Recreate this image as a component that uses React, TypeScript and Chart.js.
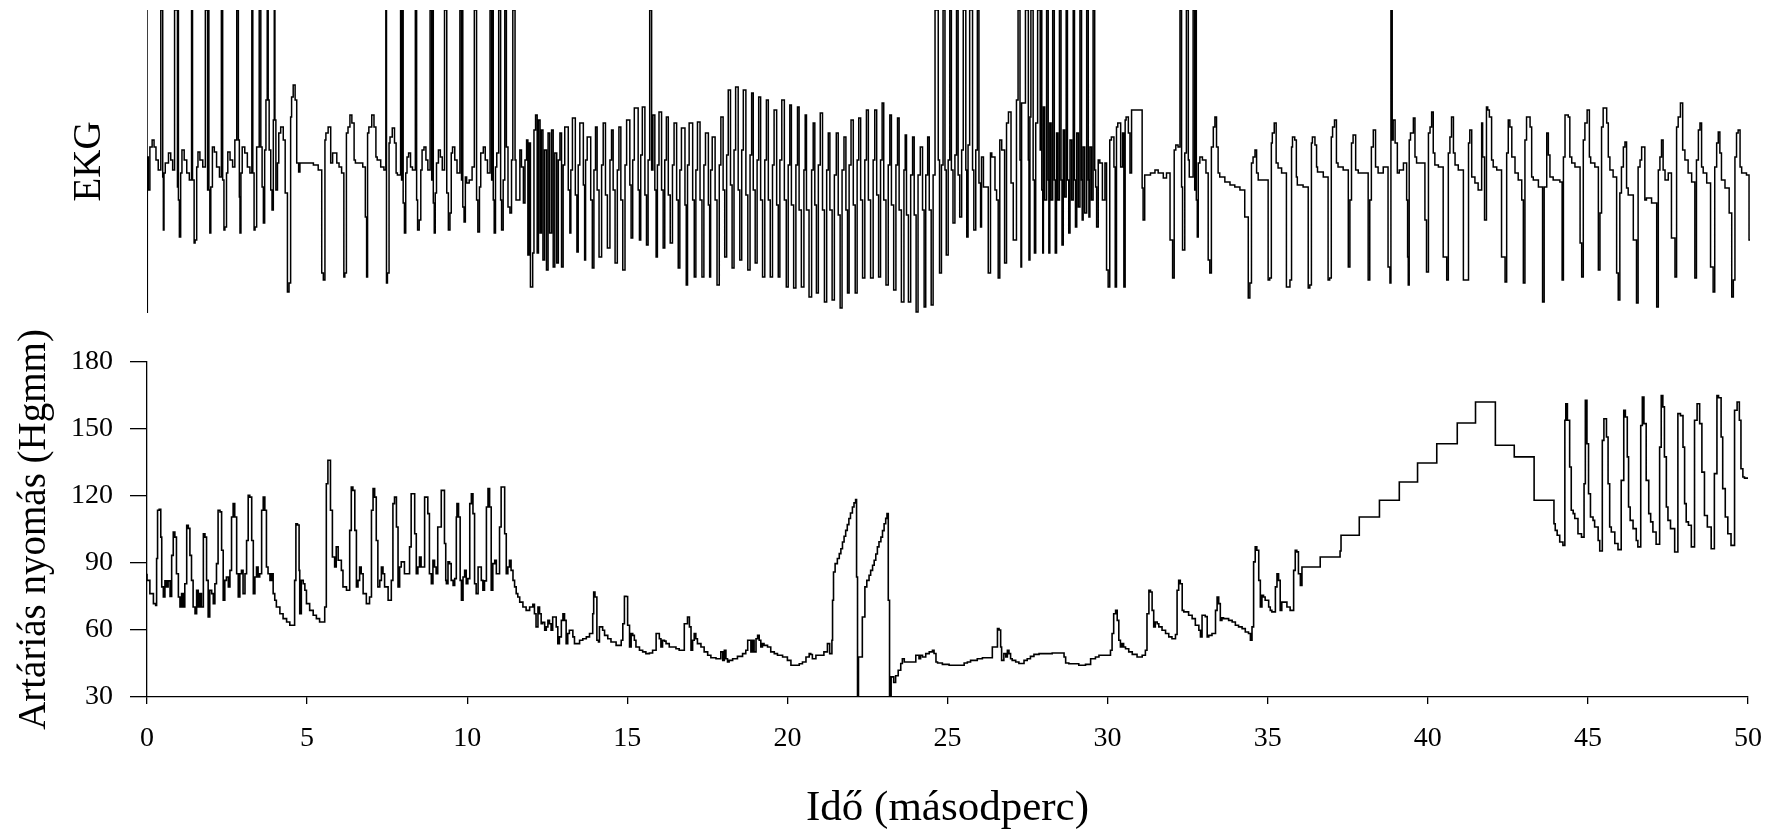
import React, { useEffect, useRef } from "react";
import { Chart, registerables } from "chart.js";

Chart.register(...registerables);

// ---------------- axis definitions ----------------
const timeMin = 0;
const timeMax = 50;
const timeStep = 5;
const pressureMin = 30;
const pressureMax = 180;
const pressureStep = 30;
const ekgMin = -1.43;
const ekgMax = 1.6;

const xTitle = "Idő (másodperc)";
const yTitle = "Artáriás nyomás (Hgmm)";
const ekgTitle = "EKG";

// ---------------- EKG (time s, value mV) pairs ----------------
const ekgSinus1 = [
  0.00,1.6, 0.01,-1.43, 0.04,0.13, 0.09,-0.2, 0.16,0.23, 0.22,0.3, 0.28,0.23, 0.35,0.1, 0.43,0.0,
  0.49,1.6, 0.51,-0.07, 0.53,-0.6, 0.57,-0.03, 0.67,0.07, 0.74,0.17, 0.80,0.1, 0.86,0.0,
  0.95,1.6, 0.97,-0.17, 0.98,1.6, 1.01,-0.3, 1.05,-0.67, 1.09,-0.03, 1.16,0.2, 1.24,0.1, 1.32,-0.03, 1.39,-0.1,
  1.42,1.6, 1.47,-0.1, 1.50,-0.73, 1.55,-0.7, 1.59,0.03, 1.65,0.18, 1.74,0.1, 1.82,0.03,
  1.89,1.6, 1.91,-0.2, 1.93,1.6, 1.96,-0.2, 1.99,-0.63, 2.04,-0.17, 2.10,0.23, 2.17,0.18, 2.26,0.03, 2.32,-0.07,
  2.36,1.6, 2.40,-0.1, 2.43,-0.6, 2.48,-0.57, 2.52,-0.03, 2.59,0.18, 2.67,0.1, 2.74,0.03, 2.80,0.3,
  2.85,1.6, 2.88,0.3, 2.90,-0.27, 2.93,-0.63, 2.97,-0.03, 3.05,0.23, 3.13,0.17, 3.21,0.03, 3.27,-0.03,
  3.30,1.6, 3.34,-0.03, 3.37,-0.6, 3.42,-0.57, 3.45,0.23, 3.50,0.23,
  3.55,1.6, 3.59,0.23, 3.63,-0.17, 3.67,-0.53, 3.71,0.2, 3.75,0.7,
  3.78,1.6, 3.81,0.7, 3.86,0.2, 3.90,-0.2, 3.94,-0.4, 3.97,0.5,
  3.99,1.6, 4.02,0.5, 4.07,-0.2, 4.11,0.07, 4.17,0.37, 4.25,0.43, 4.31,0.3, 4.38,-0.23,
];

const ekgPause = [
  4.43,-1.22, 4.48,-1.13, 4.51,0.53, 4.56,0.73, 4.62,0.85, 4.67,0.7, 4.73,0.07, 4.77,-0.02,
  5.19,0.07, 5.34,0.05, 5.45,0.0,
  5.50,-1.03, 5.55,-1.1, 5.58,0.3, 5.65,0.37, 5.73,0.43, 5.79,0.07, 5.92,0.17, 5.99,0.07, 6.07,0.03, 6.14,-0.03,
  6.17,-1.07, 6.22,-1.03, 6.27,0.37, 6.33,0.43, 6.39,0.55, 6.46,0.47, 6.50,0.1, 6.59,0.07, 6.73,0.07, 6.81,0.03,
  6.85,-0.47, 6.88,-1.07, 6.92,0.37, 7.01,0.43, 7.08,0.55, 7.14,0.43, 7.18,0.13, 7.29,0.1, 7.39,0.03, 7.45,0.0,
];

const ekgSinus2 = [
  7.47,1.6, 7.50,-1.13, 7.55,-1.03, 7.58,0.27, 7.65,0.33, 7.72,0.42, 7.77,0.27, 7.81,-0.03, 7.91,-0.05,
  7.94,1.6, 7.97,-0.1, 7.99,1.6, 8.03,-0.33, 8.07,-0.63, 8.11,-0.03, 8.16,0.13, 8.22,0.17, 8.28,0.03, 8.37,0.0,
  8.41,1.6, 8.44,-0.3, 8.49,-0.6, 8.54,-0.5, 8.58,0.0, 8.64,0.2, 8.70,0.23, 8.76,0.1, 8.83,0.0,
  8.88,1.6, 8.91,-0.1, 8.93,1.6, 8.96,-0.33, 8.99,-0.63, 9.03,-0.23, 9.09,0.07, 9.15,0.2, 9.21,0.13, 9.28,0.0,
  9.35,1.6, 9.40,-0.23, 9.45,-0.6, 9.49,-0.43, 9.53,0.17, 9.60,0.23, 9.67,0.1, 9.76,-0.03,
  9.81,1.6, 9.83,-0.1, 9.85,1.6, 9.89,-0.37, 9.93,-0.52, 9.97,-0.07, 10.05,-0.13, 10.14,-0.1, 10.21,0.03,
  10.28,1.6, 10.32,-0.3, 10.37,-0.62, 10.41,-0.17, 10.49,0.17, 10.55,0.23, 10.62,0.1, 10.70,-0.03,
  10.75,1.6, 10.78,-0.1, 10.80,1.6, 10.83,-0.3, 10.87,-0.63, 10.91,0.03, 10.97,0.17,
  11.03,1.6, 11.06,-0.3, 11.11,-0.6, 11.16,-0.1,
  11.21,1.6, 11.26,0.23, 11.32,-0.37, 11.37,-0.43, 11.41,0.1,
  11.48,1.6, 11.51,0.1, 11.57,-0.3, 11.63,-0.3, 11.68,0.2,
];

const ekgFlutter = [
  11.74,0.03, 11.79,-0.33, 11.84,0.1, 11.88,0.3, 11.92,-0.85, 11.96,0.27, 12.03,-1.17, 12.07,-0.83,
  12.12,0.4, 12.17,0.55, 12.21,-0.83, 12.26,0.5, 12.30,-0.63, 12.35,0.4, 12.40,-0.9, 12.46,0.2,
  12.51,-1.0, 12.56,0.37, 12.62,-0.63, 12.67,0.4, 12.72,-0.97, 12.78,0.17, 12.83,-0.93, 12.88,0.1,
  12.93,0.37, 12.98,-0.97, 13.03,0.05,
  13.14,0.43, 13.19,-0.2, 13.22,-0.63, 13.27,0.0,
  13.36,0.52, 13.41,-0.25, 13.45,-0.82, 13.50,0.05,
  13.61,0.47, 13.65,-0.15, 13.68,-0.9, 13.73,0.1,
  13.84,0.33, 13.89,-0.3, 13.94,-0.98, 13.99,0.0,
  14.04,0.43, 14.10,-0.2, 14.18,-0.87, 14.23,0.05,
  14.30,0.47, 14.36,-0.25, 14.44,-0.78, 14.49,0.1,
  14.54,0.40, 14.60,-0.2, 14.67,-0.93, 14.72,0.0,
  14.78,0.43, 14.84,-0.3, 14.91,-1.0, 14.96,0.05,
  15.06,0.50, 15.10,-0.15, 15.15,-0.68, 15.20,0.1,
  15.32,0.62, 15.36,-0.2, 15.40,-0.70, 15.45,0.15,
  15.53,0.63, 15.58,-0.25, 15.63,-0.75, 15.68,0.1,
  15.74,1.6, 15.78,0.0, 15.84,0.55, 15.88,-0.2, 15.92,-0.87, 15.97,0.05,
  16.05,0.58, 16.10,-0.2, 16.15,-0.78, 16.20,0.1,
  16.26,0.53, 16.32,-0.25, 16.39,-0.73, 16.44,0.05,
  16.52,0.47, 16.57,-0.3, 16.62,-0.98, 16.67,0.0,
  16.78,0.42, 16.82,-0.35, 16.86,-1.15, 16.91,0.05,
  17.02,0.47, 17.07,-0.3, 17.12,-1.07, 17.17,0.0,
  17.25,0.48, 17.31,-0.3, 17.37,-1.07, 17.42,0.05,
  17.51,0.37, 17.55,-0.35, 17.58,-1.07, 17.63,0.0,
  17.72,0.33, 17.78,-0.3, 17.85,-1.15, 17.90,0.05,
  17.97,0.53, 18.02,-0.2, 18.08,-0.87, 18.13,0.15,
  18.20,0.80, 18.25,-0.15, 18.31,-0.98, 18.36,0.2,
  18.44,0.83, 18.49,-0.2, 18.55,-0.90, 18.60,0.2,
  18.68,0.80, 18.74,-0.25, 18.81,-1.0, 18.86,0.15,
  18.91,0.77, 18.97,-0.2, 19.03,-0.93, 19.08,0.1,
  19.14,0.73, 19.20,-0.3, 19.27,-1.07, 19.32,0.1,
  19.38,0.70, 19.44,-0.3, 19.51,-1.07, 19.56,0.05,
  19.64,0.60, 19.69,-0.35, 19.74,-1.07, 19.80,0.1,
  19.88,0.70, 19.94,-0.3, 20.00,-1.17, 20.05,0.05,
  20.10,0.65, 20.17,-0.35, 20.24,-1.18, 20.29,0.05,
  20.34,0.63, 20.41,-0.4, 20.49,-1.17, 20.53,0.0,
  20.57,0.55, 20.65,-0.4, 20.73,-1.27, 20.78,0.0,
  20.83,0.47, 20.88,-0.35, 20.94,-1.23, 21.00,0.05,
  21.07,0.57, 21.13,-0.4, 21.20,-1.32, 21.25,0.0,
  21.30,0.37, 21.37,-0.4, 21.44,-1.30, 21.50,-0.05,
  21.56,0.37, 21.62,-0.45, 21.68,-1.38, 21.74,0.0,
  21.80,0.33, 21.85,-0.4, 21.90,-1.23, 21.96,0.05,
  22.03,0.50, 22.09,-0.35, 22.15,-1.23, 22.20,0.1,
  22.26,0.52, 22.32,-0.3, 22.39,-1.08, 22.44,0.1,
  22.50,0.60, 22.57,-0.3, 22.65,-1.08, 22.70,0.1,
  22.76,0.60, 22.82,-0.25, 22.88,-1.07, 22.93,0.1,
  22.98,0.67, 23.05,-0.3, 23.12,-1.15, 23.17,0.05,
  23.22,0.55, 23.29,-0.35, 23.36,-1.20, 23.41,0.05,
  23.46,0.52, 23.53,-0.4, 23.61,-1.32, 23.65,0.0,
  23.69,0.35, 23.75,-0.45, 23.82,-1.32, 23.88,-0.05,
  23.93,0.33, 23.99,-0.45, 24.05,-1.42, 24.12,-0.05,
  24.19,0.23, 24.24,-0.4, 24.29,-1.37, 24.35,-0.05,
  24.40,0.33, 24.46,-0.4, 24.52,-1.35, 24.58,-0.05,
  24.68,1.6, 24.72,0.1, 24.78,-1.03, 24.83,0.05,
  24.89,1.6, 24.93,0.0, 24.99,-0.85, 25.04,0.1,
  25.09,1.6, 25.14,0.0, 25.20,-0.53, 25.25,0.15,
  25.30,1.6, 25.35,-0.05, 25.41,-0.47, 25.46,0.2,
  25.54,1.6, 25.57,0.0, 25.61,-0.67, 25.66,0.25,
  25.75,1.6, 25.79,0.0, 25.85,-0.60, 25.90,0.2,
  25.95,1.6,
];

const ekgMixed = [
  26.00,-0.13, 26.03,-0.57, 26.09,0.13, 26.24,-0.17, 26.31,-1.03, 26.35,0.17, 26.45,0.13, 26.50,-0.2,
  26.55,-0.3, 26.60,-1.08, 26.66,0.3, 26.75,0.2, 26.81,-0.93, 26.87,0.47, 26.95,0.58, 27.02,-0.13,
  27.12,-0.7, 27.17,0.7, 27.23,1.6, 27.26,0.1, 27.28,-0.97, 27.31,0.67, 27.40,0.67, 27.49,1.6,
  27.51,0.1, 27.54,-0.9, 27.57,0.53, 27.64,1.6, 27.68,-0.1, 27.72,-0.83, 27.78,0.47, 27.86,1.6,
  27.88,0.2, 27.91,1.6, 27.94,-0.2, 27.96,-0.83, 28.00,0.63, 28.06,-0.3, 28.11,1.6, 28.13,-0.1,
  28.16,-0.83, 28.20,0.47, 28.25,-0.3, 28.30,1.6, 28.33,-0.1, 28.37,-0.83, 28.41,0.37, 28.46,-0.3,
  28.51,1.6, 28.54,-0.1, 28.58,-0.75, 28.62,0.4, 28.67,-0.27, 28.71,1.6, 28.75,-0.1, 28.79,-0.63,
  28.84,0.3, 28.89,-0.3, 28.93,1.6, 28.96,-0.1, 29.00,-0.57, 29.05,0.37, 29.10,-0.37, 29.15,1.6,
  29.17,-0.1, 29.20,-0.5, 29.25,0.23, 29.31,-0.43, 29.36,1.6, 29.38,-0.1, 29.41,-0.47, 29.46,0.23,
  29.51,-0.3, 29.56,1.6, 29.59,0.0, 29.62,-0.17, 29.67,-0.57, 29.72,0.1, 29.80,0.07, 29.88,-0.3,
  29.93,0.07, 29.98,-1.0, 30.03,-1.17, 30.08,0.3, 30.16,0.33, 30.20,0.03, 30.24,-1.17, 30.28,0.43,
  30.37,0.47, 30.43,0.03, 30.47,0.37, 30.51,-1.17, 30.54,0.5, 30.61,0.53, 30.66,0.37, 30.71,-0.03,
];

const ekgSinus3 = [
  31.04,0.6, 31.07,-0.18, 31.12,-0.5, 31.30,-0.05, 31.44,-0.03, 31.54,0.0, 31.70,-0.03, 31.80,-0.08,
  31.91,-0.03, 31.99,-0.7, 32.04,-1.08, 32.09,0.2, 32.16,0.25, 32.22,0.23,
  32.27,1.6, 32.30,-0.17, 32.37,-0.8, 32.42,0.17,
  32.48,1.6, 32.51,0.1, 32.63,-0.07,
  32.68,1.6, 32.70,-0.2, 32.73,1.6, 32.76,-0.3, 32.79,-0.67, 32.84,0.07, 32.92,0.13, 33.03,0.1, 33.10,-0.03,
  33.15,-0.9, 33.20,-1.03, 33.26,0.23, 33.31,0.43, 33.36,0.53, 33.41,0.23, 33.46,-0.03, 33.62,-0.07,
  33.78,-0.12, 33.93,-0.15, 34.09,-0.17, 34.24,-0.2,
  34.35,-0.47, 34.40,-1.28, 34.45,-1.13, 34.50,0.07, 34.56,0.13, 34.61,0.2, 34.66,-0.03, 34.82,-0.1, 34.97,-0.1,
  35.02,-1.1, 35.07,-1.08, 35.10,0.27, 35.16,0.37, 35.22,0.47, 35.28,0.07, 35.39,0.02, 35.54,-0.03,
  35.65,-1.17, 35.70,-1.1, 35.73,0.23, 35.80,0.33, 35.85,0.3, 35.88,-0.07, 36.06,-0.15, 36.22,-0.17,
  36.27,-1.18, 36.32,-1.15, 36.35,0.27, 36.43,0.33, 36.48,0.25, 36.51,0.03, 36.69,-0.02, 36.84,-0.07,
  36.89,-1.1, 36.94,-1.08, 36.98,0.33, 37.04,0.43, 37.10,0.5, 37.15,0.07, 37.31,0.03, 37.47,0.0,
  37.52,-0.97, 37.57,-0.3, 37.62,0.27, 37.70,0.35, 37.78,0.0, 37.93,-0.03, 38.09,-0.03,
  38.14,-1.1, 38.19,-0.3, 38.25,0.23, 38.32,0.4, 38.40,0.03, 38.56,-0.03, 38.71,0.03,
  38.77,-0.97, 38.80,-1.13, 38.84,1.6,
];

const ekgSinus4 = [
  38.87,0.3, 38.93,0.5, 39.00,0.27, 39.06,-0.03, 39.19,0.0, 39.29,0.07, 39.32,-0.3, 39.34,-0.87, 39.37,-1.15,
  39.41,0.3, 39.50,0.37, 39.55,0.52, 39.60,0.13, 39.71,0.07, 39.86,0.07, 39.91,-0.5, 39.97,-1.02,
  40.02,0.37, 40.07,0.43, 40.12,0.58, 40.17,0.17, 40.28,0.05, 40.43,0.03, 40.54,-0.87, 40.59,-1.1,
  40.64,0.17, 40.69,0.33, 40.75,0.53, 40.80,0.17, 40.90,0.05, 41.06,0.0, 41.16,-1.1, 41.22,-1.1,
  41.26,0.27, 41.32,0.4, 41.42,-0.07, 41.52,-0.13, 41.63,-0.2, 41.66,0.47, 41.72,0.13, 41.78,-0.5,
  41.82,0.63, 41.87,0.6, 41.94,0.53, 41.99,0.1, 42.10,0.03, 42.25,0.0, 42.36,-0.87, 42.41,-1.12,
  42.46,0.17, 42.51,0.5, 42.57,0.43, 42.67,0.13, 42.77,-0.03, 42.88,-0.1, 42.93,-0.3, 42.98,-1.13,
  43.03,0.3, 43.14,0.53, 43.19,0.43, 43.24,-0.07, 43.40,-0.1, 43.53,-0.17, 43.58,-1.32,
  43.66,-0.17, 43.71,0.37, 43.76,0.15, 43.86,-0.07, 44.07,-0.1, 44.14,-0.12, 44.18,-1.1,
  44.23,0.13, 44.33,0.55, 44.38,0.53, 44.44,0.13, 44.54,0.07, 44.70,0.03, 44.75,-0.73, 44.80,-1.07,
  44.85,0.3, 44.92,0.47, 44.99,0.6, 45.03,0.13, 45.16,0.07, 45.27,0.03, 45.32,-1.0, 45.37,-0.43,
  45.42,0.43, 45.53,0.62, 45.58,0.47, 45.63,0.13, 45.73,0.0, 45.84,-0.07, 45.89,-1.03, 45.94,-1.3,
  45.99,-0.23, 46.05,0.03, 46.10,0.23, 46.15,0.28, 46.20,-0.18, 46.36,-0.25, 46.46,-0.7, 46.51,-1.33,
  46.57,0.03, 46.62,0.1, 46.72,0.23, 46.77,-0.3, 46.93,-0.28, 47.09,-0.33, 47.14,-1.37,
  47.19,0.0, 47.24,0.13, 47.29,0.3, 47.35,0.0, 47.45,-0.1, 47.55,-0.03, 47.66,-0.68, 47.71,-1.07,
  47.76,0.43, 47.83,0.53, 47.90,0.67, 47.97,0.2, 48.07,0.1, 48.18,-0.03, 48.28,-0.12, 48.33,-1.08,
  48.39,0.1, 48.44,0.4, 48.49,0.47, 48.54,0.03, 48.65,-0.03, 48.77,-0.13, 48.85,-0.97, 48.90,-1.22,
  48.96,0.03, 49.01,0.27, 49.06,0.38, 49.11,0.17, 49.22,-0.1, 49.35,-0.18, 49.43,-0.43, 49.48,-1.27, 49.53,-1.1,
  49.58,0.13, 49.63,0.37, 49.69,0.4, 49.74,0.03, 49.89,-0.03, 49.97,-0.05, 50.0,-0.7,
];

// ---------------- arterial pressure (time s, mmHg) pairs ----------------
const pressureRest = [
  0.00,85.2, 0.09,82.2, 0.20,76.3, 0.27,71.8, 0.30,71.0, 0.33,92.0, 0.38,113.6, 0.43,114.0, 0.46,101.6,
  0.51,79.3, 0.56,74.8, 0.61,82.0, 0.66,79.3, 0.72,82.0, 0.77,75.0, 0.82,93.4, 0.87,103.9, 0.92,101.6,
  0.98,85.2, 1.03,74.8, 1.08,70.3, 1.13,76.3, 1.18,70.3, 1.24,80.7, 1.29,106.9, 1.34,105.5, 1.39,93.4,
  1.44,82.2, 1.50,70.3, 1.55,67.3, 1.60,77.8, 1.65,70.3, 1.70,76.3, 1.76,70.3, 1.81,103.1, 1.86,101.6,
  1.91,82.2, 1.96,65.8, 2.02,77.8, 2.07,76.3, 2.12,71.8, 2.17,80.7, 2.22,89.7, 2.28,113.6, 2.33,112.9,
  2.38,95.7, 2.43,73.3, 2.48,82.2, 2.54,83.7, 2.59,79.3, 2.64,86.7, 2.69,110.6, 2.74,116.6, 2.80,110.6,
  2.85,85.2, 2.90,74.8, 2.95,85.2, 3.00,86.7, 3.06,76.3, 3.11,85.2, 3.16,100.1, 3.21,120.3, 3.27,119.5,
  3.32,100.1, 3.37,76.3, 3.42,83.7, 3.47,88.2, 3.52,83.7, 3.58,85.2, 3.63,113.6, 3.68,119.5, 3.73,113.6,
  3.78,88.2, 3.84,85.2, 3.89,82.2, 3.94,85.2, 3.99,76.3, 4.04,73.3, 4.15,70.3, 4.25,67.3, 4.36,65.1,
  4.46,63.6, 4.61,62.1,
];

const pressurePause = [
  4.65,82.2, 4.70,107.6, 4.75,107.0, 4.77,86.7, 4.82,67.3, 4.88,82.2, 4.93,80.7, 4.98,77.8, 5.08,71.8,
  5.19,68.8, 5.29,66.6, 5.39,65.1, 5.55,63.6, 5.60,70.3,
];

const pressureBeats = [
  5.65,125.5, 5.73,136.0, 5.79,113.6, 5.86,92.7, 5.91,88.2, 5.97,97.2, 6.07,91.2, 6.12,86.7, 6.23,79.3,
  6.33,77.8, 6.38,104.6, 6.43,124.0, 6.49,122.5, 6.54,104.6, 6.59,79.3, 6.64,82.2, 6.69,88.2, 6.75,85.2,
  6.85,76.3, 6.95,71.8, 7.01,74.8, 7.06,113.6, 7.11,123.3, 7.16,119.5, 7.21,100.1, 7.27,79.3, 7.32,82.2,
  7.37,88.2, 7.42,85.2, 7.53,79.3, 7.63,73.3, 7.68,82.2, 7.73,116.6, 7.79,119.5, 7.84,106.1, 7.89,79.3,
  7.94,88.2, 8.04,90.5, 8.10,85.2, 8.20,85.2, 8.25,97.2, 8.30,121.0, 8.36,121.0, 8.41,103.1, 8.46,85.2,
  8.51,88.2, 8.56,92.7, 8.67,88.2, 8.72,119.5, 8.77,119.5, 8.82,112.1, 8.88,85.2, 8.93,80.7, 8.98,91.2,
  9.03,88.2, 9.08,85.2, 9.19,106.1, 9.24,122.5, 9.29,122.5, 9.33,98.7, 9.35,82.2, 9.40,80.7, 9.45,90.5,
  9.50,89.7, 9.56,82.2, 9.61,80.0, 9.66,83.0, 9.68,110.6, 9.73,116.6, 9.78,110.6, 9.82,82.2, 9.87,73.3,
  9.92,83.7, 9.97,86.7, 10.02,80.7, 10.08,83.0, 10.13,116.6, 10.18,121.0, 10.23,112.1, 10.28,80.7,
  10.34,76.3, 10.39,88.2, 10.44,88.2, 10.49,82.2, 10.54,77.8, 10.60,82.0, 10.65,115.1, 10.70,123.3,
  10.75,115.1, 10.80,77.8, 10.86,89.7, 10.91,91.2, 10.96,85.2, 11.01,85.2, 11.06,106.1, 11.12,124.0,
  11.17,124.0, 11.22,103.1, 11.27,85.2, 11.32,88.2, 11.37,91.2, 11.43,86.7,
];

const pressureDecline = [
  11.48,82.2, 11.53,79.3, 11.58,76.3, 11.64,74.8, 11.74,72.5, 11.84,70.3, 11.95,68.8, 12.05,70.3,
  12.10,71.5, 12.15,67.3, 12.21,61.4, 12.26,70.3, 12.31,67.3, 12.36,62.8, 12.42,63.5, 12.47,59.9,
  12.52,61.4, 12.57,64.3, 12.62,62.8, 12.67,59.9, 12.73,65.8, 12.78,65.8, 12.83,61.4, 12.88,53.9,
  12.94,56.9, 12.99,64.3, 13.04,67.3, 13.09,64.3, 13.14,53.9, 13.19,58.4, 13.25,59.9, 13.30,59.9,
  13.35,56.9, 13.40,53.9, 13.51,53.9, 13.61,55.4, 13.72,56.1, 13.82,56.9, 13.92,58.4, 13.95,67.3,
  13.99,77.0, 14.05,74.8, 14.10,55.4, 14.13,54.6, 14.18,61.4, 14.23,61.4, 14.29,59.9, 14.39,57.6,
  14.49,56.1, 14.65,54.6, 14.81,53.1, 14.86,55.4, 14.91,62.8, 14.96,75.1, 15.01,75.0, 15.07,62.1,
  15.12,52.4, 15.17,58.4, 15.22,57.6, 15.27,55.4, 15.38,52.4, 15.48,50.9, 15.58,50.2, 15.69,49.4,
  15.79,49.7, 15.90,50.9, 15.95,58.4, 16.00,58.4, 16.05,56.1, 16.10,52.4, 16.16,55.4, 16.21,55.0,
  16.31,53.9, 16.42,52.4, 16.52,52.4, 16.62,51.6, 16.78,50.9, 16.88,62.8, 16.94,65.8, 16.99,61.4,
  17.04,50.9, 17.09,55.4, 17.14,58.4, 17.19,56.1, 17.30,53.9, 17.40,52.4, 17.51,50.2, 17.61,48.7,
  17.77,47.6, 17.92,47.1, 17.98,50.2, 18.03,46.4, 18.08,50.9, 18.13,47.1, 18.18,45.7, 18.29,46.4,
  18.44,47.1, 18.60,48.2, 18.70,49.4, 18.76,50.9, 18.81,55.4, 18.86,55.4, 18.91,50.2, 18.96,55.4,
  19.02,50.2, 19.07,56.1, 19.12,57.6, 19.17,55.4, 19.22,52.4, 19.27,53.9, 19.38,53.1, 19.48,52.4,
  19.59,50.2, 19.69,49.4, 19.85,48.7, 20.00,47.9, 20.11,46.4, 20.21,44.2, 20.37,44.2, 20.47,44.9,
  20.58,45.7, 20.68,47.9, 20.73,49.4, 20.78,49.0, 20.89,47.1, 20.99,48.7, 21.14,48.7, 21.25,50.2,
  21.32,53.9, 21.39,49.4,
];

const pressureRamps = [
  21.41,55.4, 21.44,73.3, 21.49,86.0, 21.56,89.7, 21.62,92.0, 21.67,94.2, 21.72,96.4, 21.77,99.4,
  21.82,102.0, 21.87,104.6, 21.92,107.2, 21.97,109.9, 22.03,112.4, 22.08,115.1, 22.13,116.9, 22.16,118.4,
  22.19,83.7, 22.22,30.0, 22.34,47.9, 22.42,65.8, 22.48,79.3, 22.55,82.2, 22.60,84.5, 22.66,86.7,
  22.71,89.0, 22.76,91.2, 22.81,94.0, 22.86,97.2, 22.92,99.5, 22.97,101.6, 23.02,104.5, 23.07,107.6,
  23.11,110.0, 23.15,112.1, 23.19,73.3, 23.24,30.0, 23.32,39.0, 23.38,36.5, 23.46,39.5, 23.54,42.0,
  23.59,45.0, 23.65,47.1,
];

const pressureLow = [
  23.80,45.7, 24.01,45.7, 24.11,48.7, 24.16,47.1, 24.22,48.7, 24.32,47.9, 24.43,49.4, 24.53,50.2,
  24.58,50.9, 24.64,49.5, 24.69,45.7, 24.84,45.2, 25.05,44.6, 25.26,44.2, 25.52,44.2, 25.62,45.2,
  25.72,45.7, 25.93,46.4, 26.09,47.1, 26.40,47.6, 26.56,52.4, 26.61,60.6, 26.66,60.0, 26.69,52.4,
  26.76,46.4, 26.82,49.4, 26.87,47.9, 26.92,50.9, 26.97,49.4, 27.02,47.1, 27.13,46.4, 27.23,45.7,
  27.39,45.0, 27.49,46.4, 27.59,47.1, 27.70,48.2, 27.86,49.1, 28.27,49.4, 28.48,49.7, 28.64,49.7,
  28.69,47.9, 28.79,45.2, 29.10,44.9, 29.31,44.2, 29.47,44.6, 29.62,47.1, 29.73,47.9, 30.09,48.7,
];

const pressureRecovery = [
  30.14,50.9, 30.19,58.4, 30.25,67.3, 30.30,68.8, 30.35,64.3, 30.40,55.4, 30.45,52.4, 30.50,53.9,
  30.56,52.4, 30.66,51.6, 30.77,50.2, 30.92,49.1, 31.08,47.9, 31.18,48.7, 31.23,50.9, 31.29,67.3,
  31.34,77.8, 31.39,77.0, 31.44,68.8, 31.49,61.4, 31.55,63.6, 31.60,62.8, 31.70,61.4, 31.81,59.9,
  31.91,58.4, 32.01,56.9, 32.12,56.1, 32.17,58.0, 32.22,77.8, 32.27,82.2, 32.33,80.7, 32.38,68.8,
  32.53,68.1, 32.64,66.6, 32.74,65.1, 32.85,62.1, 32.90,59.9, 32.95,56.9, 33.05,66.6, 33.11,66.0,
  33.16,56.9, 33.26,57.6, 33.37,58.4, 33.42,68.8, 33.47,74.8, 33.52,71.8, 33.57,64.3, 33.62,65.5,
  33.78,65.1, 33.89,64.3, 33.99,63.6, 34.09,62.1, 34.20,61.4, 34.30,60.6, 34.40,59.1, 34.46,58.4,
  34.51,55.4, 34.56,61.4, 34.61,90.5, 34.66,97.2, 34.72,95.7, 34.77,82.2, 34.82,70.3, 34.87,75.5,
  34.92,74.8, 35.03,73.3, 35.08,70.3, 35.13,68.8, 35.24,68.1, 35.29,79.3, 35.34,85.2, 35.39,82.2,
  35.44,68.8, 35.50,72.5, 35.60,72.5, 35.70,70.3, 35.81,68.8, 35.86,86.7, 35.91,95.7, 35.96,95.0,
  36.02,85.2, 36.07,80.0,
];

const pressureStairs = [
  36.64,88.2, 37.26,92.7, 37.29,95.4, 37.86,102.4, 38.49,110.6, 39.11,118.1, 39.68,126.3, 40.28,134.8,
  40.92,143.4, 41.49,152.7, 42.11,162.1, 42.70,142.7, 43.32,137.5, 43.94,118.1,
];

const pressureBeatsEnd = [
  43.98,107.6, 44.04,104.6, 44.12,102.4, 44.22,99.4, 44.28,97.9, 44.31,153.9, 44.36,161.3, 44.43,153.9,
  44.48,133.0, 44.54,113.6, 44.59,112.1, 44.69,109.9, 44.80,103.1, 44.88,101.6, 44.92,125.5, 44.97,162.8,
  45.02,143.4, 45.08,121.0, 45.16,110.6, 45.21,109.1, 45.32,106.1, 45.37,100.1, 45.45,95.4, 45.50,144.9,
  45.58,154.6, 45.63,146.4, 45.68,125.5, 45.73,106.1, 45.84,103.9, 45.94,98.7, 46.04,96.0, 46.12,127.0,
  46.17,158.4, 46.23,155.4, 46.27,137.5, 46.32,115.1, 46.41,109.1, 46.51,105.4, 46.56,100.1, 46.65,97.2,
  46.70,151.6, 46.75,164.3, 46.82,152.4, 46.90,127.0, 46.96,112.1, 47.03,108.4, 47.13,103.9, 47.24,98.4,
  47.29,141.9, 47.34,165.0, 47.39,159.9, 47.45,137.5, 47.50,115.1, 47.58,109.1, 47.71,105.4, 47.81,94.9,
  47.89,156.9, 47.97,156.0, 48.02,141.9, 48.07,116.6, 48.14,108.4, 48.23,106.9, 48.33,97.2, 48.41,153.9,
  48.49,161.3, 48.56,152.4, 48.64,130.7, 48.73,111.3, 48.85,106.1, 48.95,96.4, 49.03,130.0, 49.08,165.0,
  49.16,164.0, 49.21,146.4, 49.29,123.3, 49.37,110.6, 49.47,103.1, 49.58,97.9, 49.66,158.4, 49.73,162.1,
  49.78,153.9, 49.84,132.2, 49.89,128.5, 50.0,128.0,
];

// ---------------- helpers ----------------
function toPoints(...arrays: number[][]) {
  const out: { x: number; y: number }[] = [];
  for (const arr of arrays) {
    for (let i = 0; i + 1 < arr.length; i += 2) out.push({ x: arr[i], y: arr[i + 1] });
  }
  return out;
}

const SERIF = "'Liberation Serif', 'Times New Roman', Times, serif";

export default function App() {
  const ekgRef = useRef<HTMLCanvasElement | null>(null);
  const pressRef = useRef<HTMLCanvasElement | null>(null);

  useEffect(() => {
    const ekgChart = new Chart(ekgRef.current as HTMLCanvasElement, {
      type: "line",
      data: {
        datasets: [
          {
            data: toPoints(ekgSinus1, ekgPause, ekgSinus2, ekgFlutter, ekgMixed, ekgSinus3, ekgSinus4),
            borderColor: "#000",
            borderWidth: 1.5,
            pointRadius: 0,
            stepped: "after",
            fill: false,
          },
        ],
      },
      options: {
        animation: false,
        responsive: false,
        devicePixelRatio: 1,
        events: [],
        layout: { padding: { left: 0, right: 30, top: 10, bottom: 519 } },
        plugins: { legend: { display: false }, tooltip: { enabled: false } },
        scales: {
          x: { type: "linear", min: timeMin, max: timeMax, display: false },
          y: {
            type: "linear",
            min: ekgMin,
            max: ekgMax,
            ticks: { display: false },
            grid: { display: false },
            border: { display: false },
            title: {
              display: true,
              text: ekgTitle,
              color: "#000",
              font: { family: SERIF, size: 39 },
              padding: { top: 66, bottom: 0 },
            },
            afterFit: (s: any) => {
              s.width = 147;
            },
          },
        },
      } as any,
    });

    const pressChart = new Chart(pressRef.current as HTMLCanvasElement, {
      type: "line",
      data: {
        datasets: [
          {
            data: toPoints(
              pressureRest,
              pressurePause,
              pressureBeats,
              pressureDecline,
              pressureRamps,
              pressureLow,
              pressureRecovery,
              pressureStairs,
              pressureBeatsEnd
            ),
            borderColor: "#000",
            borderWidth: 1.6,
            pointRadius: 0,
            stepped: "after",
            fill: false,
          },
        ],
      },
      options: {
        animation: false,
        responsive: false,
        devicePixelRatio: 1,
        events: [],
        layout: { padding: { left: 0, right: 30, top: 362, bottom: 0 } },
        plugins: { legend: { display: false }, tooltip: { enabled: false } },
        scales: {
          x: {
            type: "linear",
            min: timeMin,
            max: timeMax,
            ticks: {
              stepSize: timeStep,
              color: "#000",
              font: { family: SERIF, size: 28 },
              padding: 18,
              maxRotation: 0,
              autoSkip: false,
            },
            grid: { drawOnChartArea: false, drawTicks: true, tickLength: 7, color: "#000", lineWidth: 1.3 },
            border: { display: true, color: "#000", width: 1.3 },
            title: {
              display: true,
              text: xTitle,
              color: "#000",
              font: { family: SERIF, size: 43, lineHeight: 1.1 },
              padding: { top: 0, bottom: 0 },
            },
            afterFit: (s: any) => {
              s.height = 135;
            },
          },
          y: {
            type: "linear",
            min: pressureMin,
            max: pressureMax,
            ticks: {
              stepSize: pressureStep,
              color: "#000",
              font: { family: SERIF, size: 28 },
              padding: 17,
            },
            grid: { drawOnChartArea: false, drawTicks: true, tickLength: 17, color: "#000", lineWidth: 1.3 },
            border: { display: true, color: "#000", width: 1.3 },
            title: {
              display: true,
              text: yTitle,
              color: "#000",
              font: { family: SERIF, size: 39 },
              padding: { top: 11, bottom: 0 },
            },
            afterFit: (s: any) => {
              s.width = 147;
            },
          },
        },
      } as any,
    });

    return () => {
      ekgChart.destroy();
      pressChart.destroy();
    };
  }, []);

  const canvasStyle: React.CSSProperties = {
    position: "absolute",
    left: 0,
    top: 0,
    width: 1780,
    height: 832,
  };

  return (
    <div style={{ position: "absolute", left: 0, top: 0, width: 1780, height: 832, background: "#fff" }}>
      <canvas ref={ekgRef} width={1780} height={832} style={canvasStyle} />
      <canvas ref={pressRef} width={1780} height={832} style={canvasStyle} />
    </div>
  );
}
